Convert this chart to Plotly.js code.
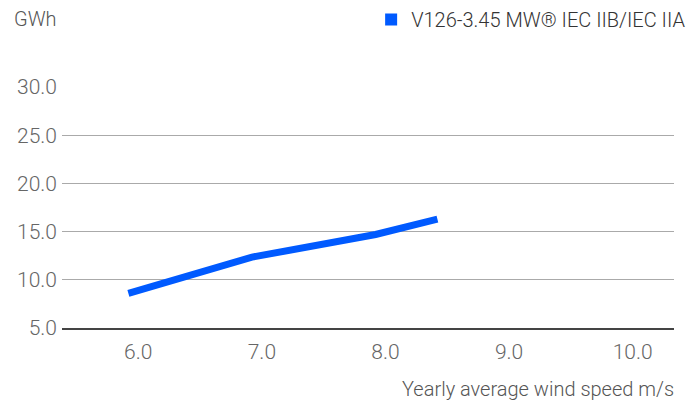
<!DOCTYPE html>
<html><head><meta charset="utf-8">
<script src="https://cdn.plot.ly/plotly-3.0.1.min.js"></script>
<style>html,body{margin:0;padding:0;background:#fff}#chart{width:692px;height:401px}</style>
</head><body><div id="chart"></div>
<script>
const windSpeed = [5.92, 6.92, 7.92, 8.42];
const energyGWh = [8.6, 12.35, 14.7, 16.3];
const seriesName = 'V126-3.45 MW® IEC IIB/IEC IIA';
const xTickVals = [6, 7, 8, 9, 10];
const xTickText = ['6.0', '7.0', '8.0', '9.0', '10.0'];
const yTickVals = [5, 10, 15, 20, 25, 30];
const yTickText = ['5.0', '10.0', '15.0', '20.0', '25.0', '30.0'];

const blue = '#005AFF';
const font = 'Roboto, "Open Sans", sans-serif';

const traces = [
  {x: windSpeed, y: energyGWh, mode: 'lines', line: {color: blue, width: 7}, showlegend: false, hoverinfo: 'skip'},
  {x: [null], y: [null], mode: 'markers', name: seriesName, marker: {symbol: 'square', size: 12, color: blue}}
];

const layout = {
  width: 692, height: 401,
  margin: {l: 62, r: 18, t: 87, b: 73},
  paper_bgcolor: '#fff', plot_bgcolor: '#fff',
  font: {family: font, size: 20, color: '#555', weight: 300},
  showlegend: true,
  legend: {x: 1.028, xanchor: 'right', y: 1, yanchor: 'top', xref: 'paper', yref: 'container',
           font: {family: font, size: 20, color: '#333', weight: 300}, bgcolor: 'rgba(0,0,0,0)'},
  xaxis: {range: [5.383, 10.334], tickvals: xTickVals, ticktext: xTickText, showgrid: false,
          zeroline: false, showline: true, linecolor: '#444', linewidth: 2, ticks: '',
          tickfont: {family: font, size: 21, color: '#666', weight: 300}, ticklabelstandoff: 4},
  yaxis: {range: [5, 30], tickvals: yTickVals, ticktext: yTickText, showgrid: true,
          gridcolor: '#aaa', gridwidth: 1, zeroline: false, showline: false, ticks: '',
          tickfont: {family: font, size: 21, color: '#666', weight: 300}, ticklabelstandoff: 4},
  annotations: [
    {text: 'GWh', xref: 'paper', yref: 'paper', x: -62/612, xanchor: 'left', y: 1, yanchor: 'bottom',
     yshift: 54, xshift: 12, showarrow: false, font: {family: font, size: 20, color: '#555', weight: 300}},
    {text: 'Yearly average wind speed m/s', xref: 'paper', yref: 'paper', x: 1, xanchor: 'right',
     y: 0, yanchor: 'top', yshift: -47, xshift: 2, showarrow: false, font: {family: font, size: 20, color: '#555', weight: 300}}
  ]
};

Plotly.newPlot('chart', traces, layout, {displayModeBar: false, staticPlot: true});
</script></body></html>
